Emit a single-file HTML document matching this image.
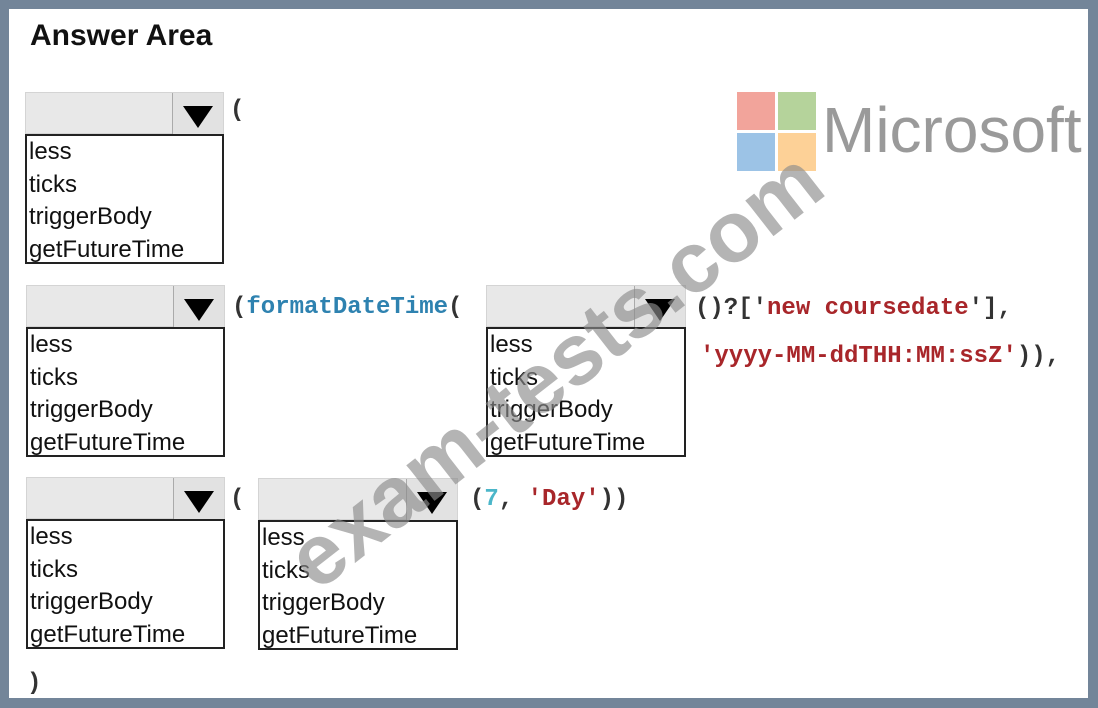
<!DOCTYPE html>
<html><head><meta charset="utf-8"><style>
body{margin:0;width:1098px;height:708px;background:#738599;position:relative;overflow:hidden;font-family:"Liberation Sans",Arial,sans-serif}
#w{position:absolute;left:9px;top:9px;width:1079px;height:689px;background:#fff}
.a{position:absolute}
.dd{position:absolute;width:199px}
.hd{height:42px;background:#e8e8e8;border:1px solid #d4d4d4;box-sizing:border-box;position:relative}
.hd .btn{position:absolute;right:0;top:0;width:50px;height:41px;border-left:1px solid #aaa;background:#e2e2e2}
.hd .btn:after{content:"";position:absolute;left:10px;top:13px;border-left:15px solid transparent;border-right:15px solid transparent;border-top:22px solid #000}
.ls{border:2px solid #222;height:130px;box-sizing:border-box;background:#fff;padding:0 0 0 2px;font-size:24px;line-height:32.5px;letter-spacing:0px;color:#111}
.c{position:absolute;font-family:"Liberation Mono",monospace;font-weight:bold;font-size:24px;color:#333;white-space:pre}
.b{color:#2e82b0}.r{color:#a8262a}.t{color:#4bb6c9}
</style></head><body>
<div id="w"></div>
<div class="a" style="left:30px;top:19px;font-size:30px;font-weight:bold;color:#111">Answer Area</div>

<div class="a" style="left:737px;top:92px;width:38px;height:38px;background:#f2a49b"></div>
<div class="a" style="left:778px;top:92px;width:38px;height:38px;background:#b5d39b"></div>
<div class="a" style="left:737px;top:133px;width:38px;height:38px;background:#9cc3e6"></div>
<div class="a" style="left:778px;top:133px;width:38px;height:38px;background:#fdd197"></div>
<div class="a" style="left:822px;top:92px;font-size:64px;color:#9a9a9a;line-height:76px;letter-spacing:0px">Microsoft</div>

<div class="dd" style="left:25px;top:92px"><div class="hd"><div class="btn"></div></div><div class="ls">less<br>ticks<br>triggerBody<br>getFutureTime</div></div>
<div class="c" style="left:230px;top:97px">(</div>

<div class="dd" style="left:26px;top:285px"><div class="hd"><div class="btn"></div></div><div class="ls">less<br>ticks<br>triggerBody<br>getFutureTime</div></div>
<div class="c" style="left:232px;top:294px">(<span class="b">formatDateTime</span>(</div>
<div class="dd" style="left:486px;top:285px;width:200px"><div class="hd"><div class="btn"></div></div><div class="ls">less<br>ticks<br>triggerBody<br>getFutureTime</div></div>
<div class="c" style="left:695px;top:295px">()?['<span class="r">new coursedate</span>'],</div>
<div class="c" style="left:700px;top:343px"><span class="r">'yyyy-MM-ddTHH:MM:ssZ'</span>)),</div>

<div class="dd" style="left:26px;top:477px"><div class="hd"><div class="btn"></div></div><div class="ls">less<br>ticks<br>triggerBody<br>getFutureTime</div></div>
<div class="c" style="left:230px;top:486px">(</div>
<div class="dd" style="left:258px;top:478px;width:200px"><div class="hd"><div class="btn"></div></div><div class="ls">less<br>ticks<br>triggerBody<br>getFutureTime</div></div>
<div class="c" style="left:470px;top:486px">(<span class="t">7</span>, <span class="r">'Day'</span>))</div>
<div class="c" style="left:27px;top:670px">)</div>

<div class="a" style="left:215px;top:320px;width:680px;text-align:center;font-size:86px;font-weight:bold;color:rgba(140,140,140,0.65);transform:rotate(-38deg);transform-origin:center;white-space:nowrap;line-height:100px">exam-tests.com</div>
</body></html>
